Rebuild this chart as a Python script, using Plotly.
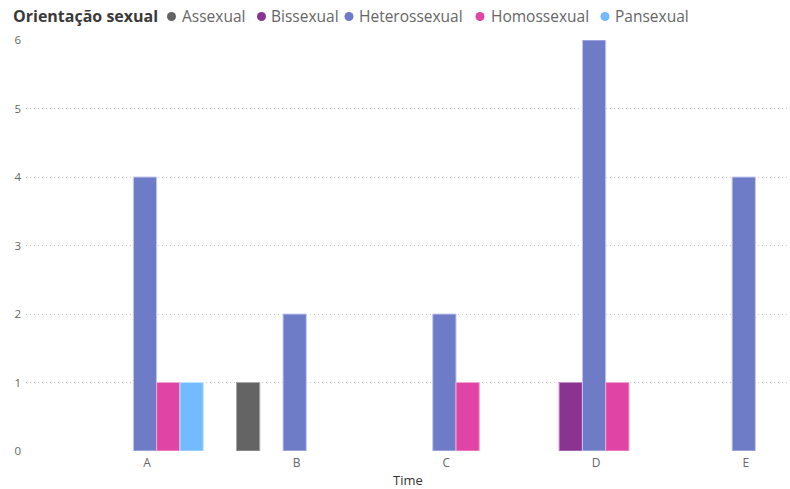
import plotly.graph_objects as go

# Team categories and orientation counts
teams = ["A", "B", "C", "D", "E"]
orientations = ["Assexual", "Bissexual", "Heterossexual", "Homossexual", "Pansexual"]
assexual = [None, 1, None, None, None]
bissexual = [None, None, None, 1, None]
heterossexual = [4, 2, 2, 6, 4]
homossexual = [1, None, 1, 1, None]
pansexual = [1, None, None, None, None]
y_ticks = [0, 1, 2, 3, 4, 5, 6]

series = [assexual, bissexual, heterossexual, homossexual, pansexual]
colors = ["#646464", "#8A3391", "#6E7BC6", "#E045A6", "#72BBFF"]
borders = ["#A8A8A8", "#C08FC6", "#C4CAEE", "#F2A6D4", "#BFE0FF"]

W, H = 790, 489
ML, MR, MT, MB = 26, 0, 40, 38
PW, PH = W - ML - MR, H - MT - MB

fig = go.Figure()
for name, vals, col, bcol in zip(orientations, series, colors, borders):
    fig.add_trace(go.Bar(
        x=teams, y=vals, name=name,
        marker=dict(color=col, line=dict(color=bcol, width=1)),
        showlegend=False,
    ))


def px_x(p):
    return (p - ML) / PW


def px_y(p):
    return 1 - (p - MT) / PH


# Legend row drawn at the top
legend_y = 16.5
annotations = [dict(
    text="<b>Orientação sexual</b>", x=px_x(11), y=px_y(legend_y),
    xref="paper", yref="paper", xanchor="left", yanchor="middle",
    showarrow=False, font=dict(family="Open Sans", size=16, color="#3A3A3A"),
)]
shapes = []
marker_x = [171.5, 261.5, 349, 480, 605]
text_x = [180, 269, 357, 489, 613]
for name, col, mx, tx in zip(orientations, colors, marker_x, text_x):
    shapes.append(dict(
        type="circle", xref="paper", yref="paper",
        xsizemode="pixel", ysizemode="pixel",
        xanchor=px_x(mx), yanchor=px_y(legend_y),
        x0=-4.5, x1=4.5, y0=-4.5, y1=4.5,
        fillcolor=col, line=dict(width=0),
    ))
    annotations.append(dict(
        text=name, x=px_x(tx), y=px_y(legend_y),
        xref="paper", yref="paper", xanchor="left", yanchor="middle",
        showarrow=False, font=dict(family="Open Sans", size=15.5, color="#666666"),
    ))

fig.update_layout(
    width=W, height=H,
    margin=dict(l=ML, r=MR, t=MT, b=MB),
    paper_bgcolor="white", plot_bgcolor="white",
    barmode="group", bargap=0.222, bargroupgap=0,
    font=dict(family="Open Sans", color="#777777"),
    annotations=annotations, shapes=shapes,
    xaxis=dict(
        range=[-0.795, 4.309], showgrid=False, zeroline=False, showline=False,
        ticks="", tickfont=dict(size=12, color="#666666"), ticklabelshift=2,
        ticklabelstandoff=3,
        title=dict(text="Time", font=dict(size=13, color="#333333"), standoff=6),
    ),
    yaxis=dict(
        range=[0, 6], tickvals=y_ticks, showgrid=True, gridcolor="#C8C8C8",
        griddash="1px,3px", gridwidth=1, zeroline=False, showline=False,
        ticks="", tickfont=dict(size=11.5, color="#666666"),
        ticklabelstandoff=4,
    ),
)

fig.write_html("out.html")
